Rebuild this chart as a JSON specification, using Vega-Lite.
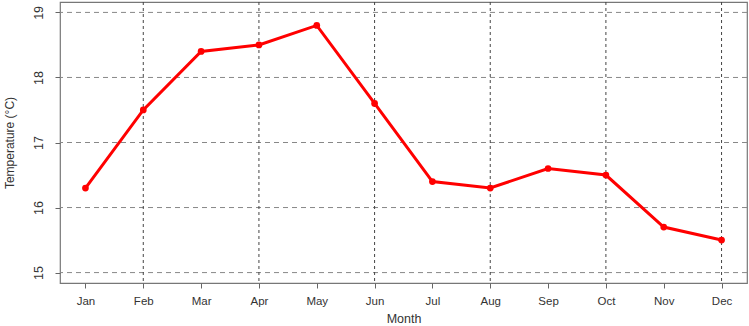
{
  "$schema": "https://vega.github.io/schema/vega-lite/v6.json",
  "width": 687,
  "height": 281,
  "autosize": {"type": "none"},
  "padding": {"left": 60, "top": 2, "right": 2, "bottom": 43},
  "background": "white",
  "config": {
    "view": {"stroke": "#777777", "strokeWidth": 1.2},
    "font": "Liberation Sans",
    "axis": {"labelFont": "Liberation Sans", "titleFont": "Liberation Sans", "labelColor": "#333333", "titleColor": "#333333", "tickColor": "#666666", "domain": false, "grid": false}
  },
  "datasets": {
    "temps": [
      {"month": 1, "temp": 16.3},
      {"month": 2, "temp": 17.5},
      {"month": 3, "temp": 18.4},
      {"month": 4, "temp": 18.5},
      {"month": 5, "temp": 18.8},
      {"month": 6, "temp": 17.6},
      {"month": 7, "temp": 16.4},
      {"month": 8, "temp": 16.3},
      {"month": 9, "temp": 16.6},
      {"month": 10, "temp": 16.5},
      {"month": 11, "temp": 15.7},
      {"month": 12, "temp": 15.5}
    ],
    "hgrid": [{"y": 15}, {"y": 16}, {"y": 17}, {"y": 18}, {"y": 19}],
    "vgrid": [{"x": 2}, {"x": 4}, {"x": 6}, {"x": 8}, {"x": 10}, {"x": 12}]
  },
  "layer": [
    {
      "data": {"name": "hgrid"},
      "mark": {"type": "rule", "color": "#888888", "strokeDash": [5, 4], "strokeWidth": 1},
      "encoding": {
        "y": {"field": "y", "type": "quantitative", "scale": {"domain": [14.84, 19.16], "nice": false, "zero": false}}
      }
    },
    {
      "data": {"name": "vgrid"},
      "mark": {"type": "rule", "color": "#444444", "strokeDash": [3, 3], "strokeWidth": 1},
      "encoding": {
        "x": {"field": "x", "type": "quantitative", "scale": {"domain": [0.56, 12.44], "nice": false, "zero": false}}
      }
    },
    {
      "data": {"name": "temps"},
      "mark": {"type": "line", "color": "#FF0000", "strokeWidth": 3, "point": {"filled": true, "color": "#FF0000", "size": 45}},
      "encoding": {
        "x": {
          "field": "month", "type": "quantitative",
          "scale": {"domain": [0.56, 12.44], "nice": false, "zero": false},
          "axis": {
            "title": "Month",
            "values": [1, 2, 3, 4, 5, 6, 7, 8, 9, 10, 11, 12],
            "labelExpr": "['Jan','Feb','Mar','Apr','May','Jun','Jul','Aug','Sep','Oct','Nov','Dec'][datum.value - 1]",
            "tickSize": 5,
            "labelPadding": 7,
            "labelFontSize": 11.5,
            "titleFontSize": 12.5,
            "titleFontWeight": "normal",
            "titlePadding": 6
          }
        },
        "y": {
          "field": "temp", "type": "quantitative",
          "scale": {"domain": [14.84, 19.16], "nice": false, "zero": false},
          "axis": {
            "title": "Temperature (°C)",
            "values": [15, 16, 17, 18, 19],
            "format": "d",
            "tickSize": 5,
            "labelAngle": -90,
            "labelAlign": "center",
            "labelBaseline": "bottom",
            "labelPadding": 10,
            "labelFontSize": 12.5,
            "titleFontSize": 12,
            "titleFontWeight": "normal",
            "titlePadding": 16
          }
        }
      }
    }
  ]
}
